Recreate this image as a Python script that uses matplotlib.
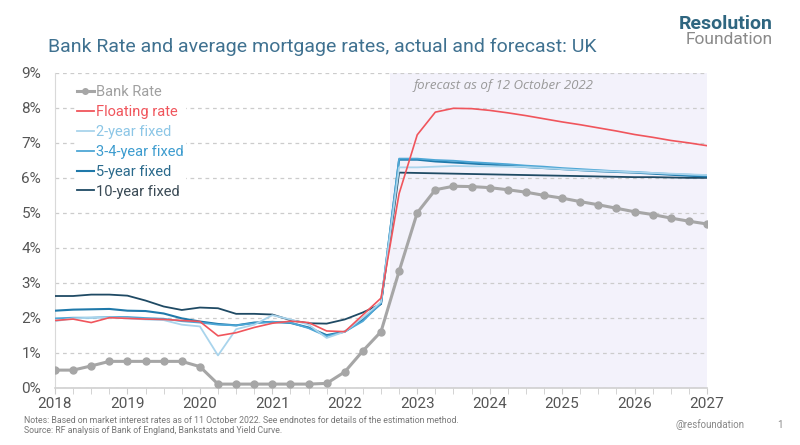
import matplotlib
matplotlib.use('Agg')
import numpy as np
import matplotlib.pyplot as plt
from matplotlib.lines import Line2D

plt.rcParams['font.family'] = ['Roboto', 'DejaVu Sans']

# quarters 2018Q1 .. 2027Q1
quarters = ["%dQ%d" % (y, q) for y in range(2018, 2027) for q in range(1, 5)] + ["2027Q1"]

bank_rate = [0.5, 0.5, 0.62, 0.75,
             0.75, 0.75, 0.75, 0.75,
             0.6, 0.1, 0.1, 0.1,
             0.1, 0.1, 0.1, 0.12,
             0.45, 1.05, 1.6, 3.33,
             5.0, 5.66, 5.76, 5.75,
             5.72, 5.66, 5.59, 5.5,
             5.42, 5.32, 5.23, 5.13,
             5.03, 4.95, 4.85, 4.76,
             4.68]
floating = [1.92, 1.96, 1.86, 2.0,
            1.98, 1.96, 1.95, 1.92,
            1.89, 1.48, 1.57, 1.72,
            1.84, 1.9, 1.86, 1.62,
            1.6, 2.08, 2.56, 5.55,
            7.23, 7.88, 7.99, 7.98,
            7.93, 7.86, 7.78, 7.69,
            7.6, 7.52, 7.43, 7.34,
            7.24, 7.16, 7.07, 7.0,
            6.92]
fixed_2y = [1.9, 1.98, 2.0, 2.01,
            1.98, 1.95, 1.93, 1.8,
            1.75, 0.92, 1.67, 1.8,
            2.07, 1.95, 1.8, 1.42,
            1.6, 2.0, 2.45, 6.3,
            6.3, 6.32, 6.34, 6.33,
            6.33, 6.32, 6.31, 6.28,
            6.25, 6.22, 6.2, 6.18,
            6.16, 6.14, 6.12, 6.1,
            6.08]
fixed_34y = [1.98, 2.0, 2.0, 2.02,
             2.02, 1.99, 1.97, 1.9,
             1.86, 1.8, 1.78, 1.84,
             1.88, 1.86, 1.7, 1.47,
             1.6, 1.9, 2.42, 6.55,
             6.55, 6.51, 6.49, 6.45,
             6.42, 6.39, 6.35, 6.32,
             6.28, 6.25, 6.22, 6.19,
             6.17, 6.14, 6.11, 6.09,
             6.07]
fixed_5y = [2.2, 2.23, 2.24, 2.25,
            2.2, 2.19, 2.12, 1.98,
            1.89, 1.82, 1.78, 1.86,
            1.88, 1.85, 1.72, 1.5,
            1.6, 1.95, 2.4, 6.52,
            6.52, 6.47, 6.44, 6.41,
            6.38, 6.35, 6.31, 6.28,
            6.25, 6.22, 6.19, 6.17,
            6.15, 6.12, 6.09, 6.06,
            6.04]
fixed_10y = [2.62, 2.62, 2.66, 2.66,
             2.63, 2.49, 2.32, 2.22,
             2.29, 2.27, 2.11, 2.11,
             2.09, 1.93, 1.84, 1.83,
             1.95, 2.15, 2.39, 6.15,
             6.14, 6.13, 6.12, 6.11,
             6.1, 6.09, 6.08, 6.07,
             6.06, 6.05, 6.04, 6.03,
             6.02, 6.02, 6.01, 6.0,
             6.0]

years = [2018, 2019, 2020, 2021, 2022, 2023, 2024, 2025, 2026, 2027]
forecast_start = 2022.63


def quarter_to_x(q):
    return int(q[:4]) + (int(q[5]) - 1) * 0.25


x = np.array([quarter_to_x(q) for q in quarters])

GREY = '#a6a6a6'
RED = '#f0555c'
C2 = '#a9d4ec'
C34 = '#4ea7d6'
C5 = '#1f79aa'
C10 = '#1f4a64'

fig = plt.figure(figsize=(8, 4.45), dpi=100)
ax = fig.add_axes([0.06875, 0.129, 0.815, 0.707])

ax.axvspan(forecast_start, 2027, color='#f3f2fb', zorder=0, lw=0)

ax.plot(x, fixed_10y, color=C10, lw=1.3, zorder=3)
ax.plot(x, fixed_5y, color=C5, lw=1.5, zorder=3)
ax.plot(x, fixed_34y, color=C34, lw=1.3, zorder=3)
ax.plot(x, fixed_2y, color=C2, lw=1.3, zorder=3)
ax.plot(x, floating, color=RED, lw=1.2, zorder=3)
ax.plot(x, bank_rate, color=GREY, lw=2.2, marker='o', ms=5, zorder=4)

ax.set_xlim(2018, 2027)
ax.set_ylim(0, 9)
ax.set_yticks(range(0, 10))
ax.set_yticklabels(['%d%%' % v for v in range(0, 10)])
ax.set_xticks(years)
ax.set_xticklabels([str(y) for y in years])
ax.set_xticks(x, minor=True)
ax.grid(axis='y', color='#cccccc', ls=(0, (3, 3)), lw=0.9)
ax.set_axisbelow(True)

for s in ['top', 'right']:
    ax.spines[s].set_visible(False)
ax.spines['left'].set_color('#d9d9d9')
ax.spines['bottom'].set_color('#d0d0d0')
ax.spines['bottom'].set_linewidth(1.2)
ax.tick_params(axis='y', length=0, pad=10, labelsize=11, labelcolor='#555555')
ax.tick_params(axis='x', which='both', length=4, color='#cccccc', labelsize=11,
               labelcolor='#555555', pad=3)

handles = [
    Line2D([], [], color=GREY, lw=2.2, marker='o', ms=4),
    Line2D([], [], color=RED, lw=1.3),
    Line2D([], [], color=C2, lw=1.3),
    Line2D([], [], color=C34, lw=1.3),
    Line2D([], [], color=C5, lw=1.5),
    Line2D([], [], color=C10, lw=1.3),
]
labels = ['Bank Rate', 'Floating rate', '2-year fixed', '3-4-year fixed', '5-year fixed', '10-year fixed']
leg = ax.legend(handles, labels, loc='upper left', bbox_to_anchor=(0.03, 0.97),
                frameon=True, facecolor='white', edgecolor='none', framealpha=1,
                fontsize=10.5, handlelength=1.1, handletextpad=0.15, labelspacing=0.4,
                borderpad=0.2, borderaxespad=0)
text_colors = ['#a0a0a0', RED, '#8cc6e6', '#3d9ccf', '#2a6a8c', '#3a4a55']
for t, c in zip(leg.get_texts(), text_colors):
    t.set_color(c)

ax.text(2022.95, 8.55, 'forecast as of 12 October 2022', fontsize=9.5, style='italic',
        color='#999999', family=['Open Sans', 'DejaVu Sans'])

fig.text(0.06, 0.883, 'Bank Rate and average mortgage rates, actual and forecast: UK',
         fontsize=14, color='#3f7190', ha='left', va='baseline')
fig.text(0.966, 0.935, 'Resolution', fontsize=14, fontweight='bold', color='#2f6680',
         ha='right', va='baseline')
fig.text(0.966, 0.902, 'Foundation', fontsize=12.5, color='#8a8a8a',
         ha='right', va='baseline')

fig.text(0.03, 0.05, 'Notes: Based on market interest rates as of 11 October 2022. '
         'See endnotes for details of the estimation method.',
         fontsize=6.3, color='#777777', ha='left', va='baseline')
fig.text(0.03, 0.028, 'Source: RF analysis of Bank of England, Bankstats and Yield Curve.',
         fontsize=6.3, color='#777777', ha='left', va='baseline')
fig.text(0.844, 0.038, '@resfoundation', fontsize=7, color='#888888', ha='left', va='baseline')
fig.text(0.972, 0.038, '1', fontsize=7, color='#888888', ha='left', va='baseline')

fig.savefig('out.png', dpi=100)
